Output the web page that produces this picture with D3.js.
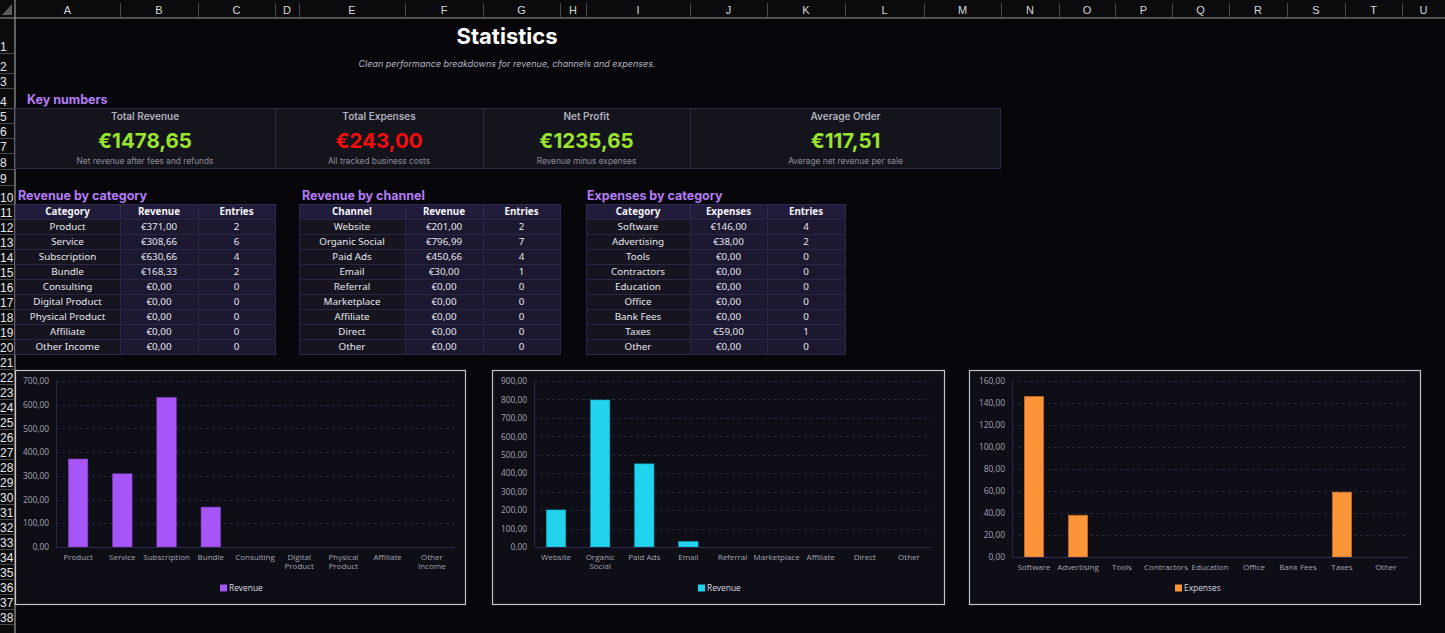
<!DOCTYPE html>
<html>
<head>
<meta charset="utf-8">
<script src="https://cdn.jsdelivr.net/npm/d3@7"></script>
<style>
  html, body { margin: 0; padding: 0; background: #07070b; overflow: hidden; }
  svg { display: block; }
</style>
</head>
<body>
<svg id="sheet" width="1445" height="633"></svg>
<script>
// ---- data read from the sheet ----
var revCategories = ["Product", "Service", "Subscription", "Bundle", "Consulting", "Digital Product", "Physical Product", "Affiliate", "Other Income"];
var revCategoryValues = [371.00, 308.66, 630.66, 168.33, 0, 0, 0, 0, 0];
var revCategoryEntries = [2, 6, 4, 2, 0, 0, 0, 0, 0];

var channels = ["Website", "Organic Social", "Paid Ads", "Email", "Referral", "Marketplace", "Affiliate", "Direct", "Other"];
var channelValues = [201.00, 796.99, 450.66, 30.00, 0, 0, 0, 0, 0];
var channelEntries = [2, 7, 4, 1, 0, 0, 0, 0, 0];

var expCategories = ["Software", "Advertising", "Tools", "Contractors", "Education", "Office", "Bank Fees", "Taxes", "Other"];
var expValues = [146.00, 38.00, 0, 0, 0, 0, 0, 59.00, 0];
var expEntries = [4, 2, 0, 0, 0, 0, 0, 1, 0];

var kpiLabels = ["Total Revenue", "Total Expenses", "Net Profit", "Average Order"];
var kpiValues = [1478.65, 243.00, 1235.65, 117.51];
var kpiNotes = ["Net revenue after fees and refunds", "All tracked business costs", "Revenue minus expenses", "Average net revenue per sale"];

var revTicks = d3.range(0, 701, 100);
var chanTicks = d3.range(0, 901, 100);
var expTicks = d3.range(0, 161, 20);

var colLetters = "ABCDEFGHIJKLMNOPQRSTU".split("");

// ---- layout ----
var svg = d3.select("#sheet");
var colEdges = [15, 120, 198, 275, 299, 405, 483, 560, 586, 690, 767, 845, 924, 1001, 1059, 1115, 1172, 1229, 1287, 1345, 1402, 1460];
var rowEdges = [18, 53, 73, 88, 108, 123, 138, 153, 169, 185, 204];
for (var r = 11; r <= 38; r++) rowEdges.push(204 + (r - 10) * 15);

var locale = d3.formatLocale({decimal: ",", thousands: ".", grouping: [100], currency: ["€", ""]});
var euro = locale.format("$.2f");
var num2 = locale.format(".2f");

var UI = "Inter, 'Noto Sans', sans-serif";
var CELL = "'Noto Sans', 'Open Sans', sans-serif";
var CHART = "'Open Sans', 'Noto Sans', sans-serif";

svg.append("rect").attr("width", 1445).attr("height", 633).attr("fill", "#07070b");

// headers
var hdr = svg.append("g");
hdr.append("rect").attr("x", 0).attr("y", 0).attr("width", 1445).attr("height", 18).attr("fill", "#0b0b0e");
hdr.append("rect").attr("x", 0).attr("y", 0).attr("width", 15).attr("height", 633).attr("fill", "#0b0b0e");
hdr.append("path").attr("d", "M12,4 L12,15 L2,15 Z").attr("fill", "#5a5a5a");

colLetters.forEach(function(c, i) {
	hdr.append("line").attr("x1", colEdges[i + 1] + 0.5).attr("x2", colEdges[i + 1] + 0.5)
		.attr("y1", 3).attr("y2", 17).attr("stroke", "#4a4a4a");
	hdr.append("text").attr("x", (colEdges[i] + Math.min(colEdges[i + 1], 1445)) / 2)
		.attr("y", 14).attr("text-anchor", "middle")
		.attr("font-family", "'Liberation Sans', Arial, sans-serif").attr("font-size", 11)
		.attr("fill", "#d8d8d8").text(c);
});
hdr.append("line").attr("x1", 0).attr("x2", 1445).attr("y1", 18).attr("y2", 18).attr("stroke", "#9a9a9a").attr("stroke-width", 1.2);
hdr.append("line").attr("x1", 15).attr("x2", 15).attr("y1", 0).attr("y2", 633).attr("stroke", "#9a9a9a").attr("stroke-width", 1.2);

var rowClip = svg.append("clipPath").attr("id", "rowclip");
rowClip.append("rect").attr("x", 0).attr("y", 18).attr("width", 14.5).attr("height", 615);
var rowG = hdr.append("g").attr("clip-path", "url(#rowclip)");
for (var k = 0; k < rowEdges.length - 1; k++) {
	rowG.append("line").attr("x1", 0).attr("x2", 15).attr("y1", rowEdges[k + 1] + 0.5).attr("y2", rowEdges[k + 1] + 0.5)
		.attr("stroke", "#4a4a4a");
	rowG.append("text").attr("x", 0).attr("y", rowEdges[k + 1] - 2.5)
		.attr("font-family", "'Liberation Sans', Arial, sans-serif").attr("font-size", 12)
		.attr("fill", "#e6e6e6").text(k + 1);
}

// title
svg.append("text").attr("x", 507).attr("y", 44).attr("text-anchor", "middle")
	.attr("font-family", UI).attr("font-weight", 700).attr("font-size", 22)
	.attr("fill", "#ffffff").text("Statistics");
svg.append("text").attr("x", 507).attr("y", 66.5).attr("text-anchor", "middle")
	.attr("font-family", UI).attr("font-style", "italic").attr("font-size", 9)
	.attr("fill", "#b4b4c0").text("Clean performance breakdowns for revenue, channels and expenses.");

function sectionTitle(x, y, t) {
	svg.append("text").attr("x", x).attr("y", y)
		.attr("font-family", UI).attr("font-weight", 700).attr("font-size", 12.5)
		.attr("fill", "#b47cf5").text(t);
}
sectionTitle(27, 104, "Key numbers");
sectionTitle(18, 200, "Revenue by category");
sectionTitle(302, 200, "Revenue by channel");
sectionTitle(587, 200, "Expenses by category");

// key numbers
var kpiEdges = [15, 275, 483, 690, 1001];
var kpiColors = ["#9be22d", "#f50c0c", "#9be22d", "#9be22d"];
var kpi = svg.append("g");
kpi.append("rect").attr("x", 15.5).attr("y", 108.5).attr("width", 985).attr("height", 60)
	.attr("fill", "#14141d").attr("stroke", "#2a2a44");
kpiLabels.forEach(function(l, i) {
	var cx = (kpiEdges[i] + kpiEdges[i + 1]) / 2;
	if (i > 0) kpi.append("line").attr("x1", kpiEdges[i] + 0.5).attr("x2", kpiEdges[i] + 0.5)
		.attr("y1", 108.5).attr("y2", 168.5).attr("stroke", "#2a2a44");
	kpi.append("text").attr("x", cx).attr("y", 119.5).attr("text-anchor", "middle")
		.attr("font-family", UI).attr("font-weight", 600).attr("font-size", 10)
		.attr("fill", "#b0b0bc").text(l);
	kpi.append("text").attr("x", cx).attr("y", 147.5).attr("text-anchor", "middle")
		.attr("font-family", UI).attr("font-weight", 700).attr("font-size", 20.5)
		.attr("fill", kpiColors[i]).text(euro(kpiValues[i]));
	kpi.append("text").attr("x", cx).attr("y", 164).attr("text-anchor", "middle")
		.attr("font-family", UI).attr("font-size", 8.3)
		.attr("fill", "#8c8c9a").text(kpiNotes[i]);
});

// tables
function drawTable(cols, head, names, values, entries) {
	var g = svg.append("g");
	var rows = names.map(function(n, i) { return [n, euro(values[i]), entries[i]]; });
	var y0 = 204, rh = 15;
	head.forEach(function(h, c) {
		g.append("rect").attr("x", cols[c] + 0.5).attr("y", y0 + 0.5).attr("width", cols[c + 1] - cols[c]).attr("height", rh)
			.attr("fill", "#221c3b").attr("stroke", "#2f2a52");
		g.append("text").attr("x", (cols[c] + cols[c + 1]) / 2).attr("y", y0 + 11)
			.attr("text-anchor", "middle").attr("font-family", CELL).attr("font-weight", 700)
			.attr("font-size", 9.8).attr("fill", "#f2f2f6").text(h);
	});
	rows.forEach(function(row, r) {
		row.forEach(function(v, c) {
			var y = y0 + rh * (r + 1);
			g.append("rect").attr("x", cols[c] + 0.5).attr("y", y + 0.5).attr("width", cols[c + 1] - cols[c]).attr("height", rh)
				.attr("fill", c === 0 ? "#16151f" : "#1c1830").attr("stroke", "#2b2649");
			g.append("text").attr("x", (cols[c] + cols[c + 1]) / 2).attr("y", y + 11)
				.attr("text-anchor", "middle").attr("font-family", CELL)
				.attr("font-size", 9.8).attr("fill", "#e6e6ee").text(v);
		});
	});
}
drawTable([15, 120, 198, 275], ["Category", "Revenue", "Entries"], revCategories, revCategoryValues, revCategoryEntries);
drawTable([299, 405, 483, 560], ["Channel", "Revenue", "Entries"], channels, channelValues, channelEntries);
drawTable([586, 690, 767, 845], ["Category", "Expenses", "Entries"], expCategories, expValues, expEntries);

// charts
function drawChart(box, plot, names, values, ticks, color, edge, legendName, legendX) {
	var g = svg.append("g");
	g.append("rect").attr("x", box[0] + 0.5).attr("y", 370.5).attr("width", box[1] - box[0]).attr("height", 234)
		.attr("fill", "#0e0e16").attr("stroke", "#c4c4c8").attr("stroke-width", 1.2);

	var x = d3.scaleBand().domain(names).range([plot.left, plot.right]).paddingInner(0.56).paddingOuter(0.28);
	var y = d3.scaleLinear().domain([0, ticks[ticks.length - 1]]).range([plot.bottom, plot.top]);

	g.append("g").selectAll("line").data(ticks.slice(1)).enter().append("line")
		.attr("x1", plot.left).attr("x2", plot.right)
		.attr("y1", function(d) { return Math.round(y(d)) + 0.5; })
		.attr("y2", function(d) { return Math.round(y(d)) + 0.5; })
		.attr("stroke", "#272446").attr("stroke-dasharray", "3,3");

	var ya = g.append("g").attr("transform", "translate(" + plot.left + ",0)")
		.call(d3.axisLeft(y).tickValues(ticks).tickSize(0).tickPadding(7).tickFormat(num2));
	ya.select(".domain").attr("stroke", "#2a2848");
	ya.selectAll("text").attr("font-family", CHART).attr("font-size", 8.4).attr("fill", "#a4a4b2");

	g.append("g").selectAll("rect").data(values).enter().append("rect")
		.attr("x", function(d, i) { return x(names[i]); })
		.attr("width", x.bandwidth())
		.attr("y", function(d) { return y(d); })
		.attr("height", function(d) { return plot.bottom - y(d); })
		.attr("fill", color).attr("stroke", edge).attr("stroke-width", 0.6);

	var xa = g.append("g").attr("transform", "translate(0," + plot.bottom + ")")
		.call(d3.axisBottom(x).tickSize(0).tickPadding(7));
	xa.select(".domain").attr("stroke", "#2d2a52").attr("stroke-width", 1.2);
	xa.selectAll("text").attr("font-family", CHART).attr("font-size", 8).attr("fill", "#a4a4b2")
		.each(function(d) {
			if (d.length > 10 && d.indexOf(" ") > 0) {
				var parts = d.split(" ");
				var t = d3.select(this).text(null);
				t.append("tspan").attr("x", 0).attr("dy", "0.71em").text(parts[0]);
				t.append("tspan").attr("x", 0).attr("dy", "1.2em").text(parts.slice(1).join(" "));
				t.attr("dy", null);
			}
		});

	var lg = g.append("g").attr("transform", "translate(" + legendX + ",588)");
	lg.append("rect").attr("x", -20).attr("y", -3.5).attr("width", 7).attr("height", 7).attr("fill", color);
	lg.append("text").attr("x", -11).attr("y", 3).attr("font-family", CHART).attr("font-size", 8.4)
		.attr("fill", "#dcdce4").text(legendName);
}
drawChart([15, 465], {left: 56, right: 454, top: 381, bottom: 547}, revCategories, revCategoryValues, revTicks, "#a855f7", "#7c3fc4", "Revenue", 240);
drawChart([492, 944], {left: 534, right: 931, top: 381, bottom: 547}, channels, channelValues, chanTicks, "#22d3ee", "#109cb4", "Revenue", 718);
drawChart([969, 1420], {left: 1012, right: 1408, top: 381, bottom: 557}, expCategories, expValues, expTicks, "#fb9438", "#c46a20", "Expenses", 1195);
</script>
</body>
</html>
